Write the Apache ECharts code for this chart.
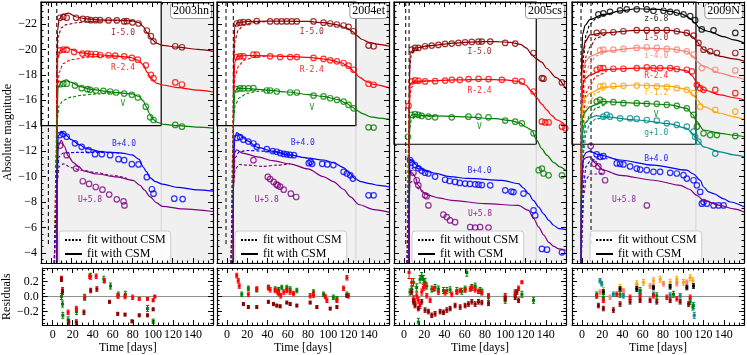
<!DOCTYPE html>
<html>
<head>
<meta charset="utf-8">
<script src="https://cdn.jsdelivr.net/npm/echarts@6/dist/echarts.min.js"></script>
<style>
  html, body { margin: 0; padding: 0; background: #fff; }
  #chart { width: 747px; height: 355px; }
</style>
</head>
<body>
<div id="chart"></div>
<script>
// axis ranges
const xMin = -10, xMax = 160;
const magTop = -23.73, magBottom = -3.2;
const resMin = -0.38, resMax = 0.38;
const epochEnd = -4.5;

// ---------- SN 2003hn ----------
const hn03_I_obs = [[8.8,-22.49],[12.1,-22.57],[15.4,-22.49],[24.7,-22.49],[31.3,-22.41],[35.9,-22.36],[39.2,-22.30],[44.1,-22.30],[48.4,-22.30],[56.7,-22.28],[64.9,-22.28],[72.2,-22.20],[74.8,-22.22],[80.4,-22.12],[86.4,-22.04],[94.6,-21.49],[98.6,-21.04],[101.2,-20.64],[122.7,-20.25],[129.3,-20.17]];
const hn03_I_csm = [[5.6,-3.2],[5.8,-18],[6.3,-21.5],[8,-22.4],[12,-22.75],[17,-22.85],[25,-22.55],[35,-22.4],[50,-22.32],[65,-22.3],[80,-22.25],[87,-22.1],[91,-21.8],[95,-21.3],[99,-20.85],[104,-20.5],[110,-20.32],[125,-20.18],[145,-20.0],[160,-19.85]];
const hn03_I_nocsm = [[3.5,-3.2],[5,-12],[5.8,-19],[7,-21.0],[10,-21.7],[15,-21.95],[25,-22.1],[40,-22.2],[60,-22.27],[80,-22.22]];
const hn03_R_obs = [[8.8,-19.93],[12.1,-19.98],[15.4,-19.98],[22.7,-19.80],[30.9,-19.67],[35.9,-19.67],[39.2,-19.64],[44.1,-19.64],[48.4,-19.56],[56.7,-19.54],[63.3,-19.51],[72.2,-19.46],[79.8,-19.33],[85.7,-19.19],[93.6,-18.75],[98.6,-18.0],[101.2,-17.74],[122.7,-17.40],[129.3,-17.24]];
const hn03_R_csm = [[5.6,-3.2],[5.8,-16],[6.5,-19.3],[9,-19.9],[15,-20.15],[20,-20.0],[28,-19.75],[40,-19.62],[60,-19.5],[78,-19.38],[86,-19.15],[91,-18.8],[95,-18.2],[99,-17.7],[104,-17.35],[110,-17.2],[125,-17.0],[145,-16.8],[160,-16.65]];
const hn03_R_nocsm = [[3.3,-3.2],[5,-10],[6,-16.5],[8,-18.2],[12,-18.9],[20,-19.2],[35,-19.38],[50,-19.45],[65,-19.48],[78,-19.38]];
const hn03_V_obs = [[8.8,-17.27],[12.1,-17.30],[15.4,-17.30],[23.6,-17.16],[30.2,-16.95],[35.9,-16.87],[38.5,-16.82],[44.4,-16.77],[51.7,-16.74],[58.3,-16.69],[64.3,-16.61],[72.2,-16.53],[79.8,-16.43],[85.7,-16.22],[93.6,-15.50],[97.9,-14.66],[101.2,-14.45],[122.7,-14.06],[129.3,-13.92]];
const hn03_V_csm = [[5.6,-3.2],[5.8,-14],[6.8,-17.0],[10,-17.45],[15,-17.6],[20,-17.4],[28,-17.1],[40,-16.85],[55,-16.7],[65,-16.6],[80,-16.5],[87,-16.3],[91,-15.95],[94,-15.5],[97,-15.0],[100,-14.55],[105,-14.25],[112,-14.1],[125,-14.0],[145,-13.88],[160,-13.8]];
const hn03_V_nocsm = [[3.2,-3.2],[5,-9],[6,-14.5],[8,-15.6],[12,-16.0],[20,-16.25],[30,-16.4],[45,-16.5],[60,-16.6],[70,-16.58]];
const hn03_B_obs = [[8.8,-13.26],[12.1,-13.34],[15.4,-13.13],[23.6,-12.61],[30.2,-12.34],[36.9,-12.08],[43.4,-11.76],[50.1,-11.76],[58.3,-11.68],[66.6,-11.37],[72.2,-11.29],[79.8,-10.97],[86.4,-10.95],[94.6,-9.95],[99.6,-9.0],[101.2,-8.65],[121.7,-8.26],[130.0,-8.23]];
const hn03_B_csm = [[5.6,-3.2],[5.8,-10],[7,-13.2],[10,-13.55],[14,-13.3],[20,-12.9],[28,-12.5],[35,-12.2],[50,-11.95],[70,-11.85],[80,-11.7],[87,-11.35],[91,-10.75],[94,-10.4],[98,-9.9],[103,-9.6],[110,-9.4],[125,-9.15],[145,-8.95],[160,-8.85]];
const hn03_B_nocsm = [[3,-3.2],[5,-7],[6,-10.5],[8,-11.6],[12,-11.85],[25,-11.9],[50,-11.9],[70,-11.85]];
const hn03_U_obs = [[8.8,-12.44],[15.4,-11.68],[24.7,-10.63],[31.3,-9.63],[37.5,-9.42],[44.1,-9.18],[50.7,-8.97],[57.4,-8.58],[64.9,-8.21],[71.6,-8.05],[72.5,-7.73]];
const hn03_U_csm = [[5.6,-3.2],[5.8,-9],[7,-12.4],[10,-12.85],[13,-12.4],[17,-11.6],[22,-11.1],[27,-10.8],[32,-10.45],[45,-10.2],[65,-9.97],[81,-9.7],[88,-9.3],[92,-8.95],[98,-8.4],[104,-7.95],[110,-7.65],[130,-7.45],[160,-7.25]];
const hn03_U_nocsm = [[3,-3.2],[5,-6],[6,-9.5],[8,-10.8],[12,-11.0],[20,-10.7],[30,-10.5],[45,-10.3],[60,-10.1],[75,-9.85]];
const hn03_res_V = [[8.8,0.0,0.04],[9.8,-0.1,0.04],[10.1,-0.25,0.04],[15.4,-0.31,0.04],[23.8,-0.2,0.04],[31.9,-0.01,0.04],[37.9,0.27,0.04],[51.0,0.23,0.04],[57.7,0.14,0.04],[65.6,0.02,0.04],[72.5,0.03,0.04],[94.6,-0.16,0.04],[100.3,-0.33,0.03]];
const hn03_res_R = [[8.8,0.24,0.03],[9.8,0.09,0.03],[15.4,-0.21,0.03],[23.6,-0.16,0.03],[31.9,-0.01,0.03],[36.9,0.27,0.03],[43.4,0.27,0.03],[51.7,0.21,0.03],[64.9,0.01,0.03],[72.2,0.0,0.03],[79.8,-0.01,0.03],[86.4,-0.03,0.02],[94.6,-0.03,0.02],[100.3,-0.05,0.02],[101.9,0.0,0.02]];
const hn03_res_I = [[8.8,0.23,0.03],[9.8,0.06,0.03],[16.1,-0.34,0.03],[23.6,-0.34,0.03],[31.2,-0.21,0.03],[37.9,0.08,0.03],[44.1,0.10,0.03],[56.7,-0.07,0.02],[64.9,-0.23,0.02],[72.2,-0.24,0.02],[79.1,-0.33,0.02],[86.4,-0.25,0.02],[94.6,-0.25,0.02],[100.3,-0.17,0.02]];
const hn03_labels = [[71,-21.33,'I-5.0'],[71,-18.56,'R-2.4'],[71,-15.7,'V'],[72,-12.6,'B+4.0'],[38.5,-8.2,'U+5.8']];

// ---------- SN 2004et ----------
const et04_I_obs = [[9.5,-22.04],[12.8,-22.1],[16.1,-22.15],[21,-22.15],[29.3,-22.22],[42.5,-22.2],[49.1,-22.2],[54,-22.2],[59,-22.2],[64,-22.2],[68.9,-22.2],[85.4,-22.2],[95.3,-22.1],[101.9,-22.04],[108.5,-21.96],[115.1,-21.88],[120,-21.78],[125,-21.43],[139.8,-20.30],[144.8,-20.25]];
const et04_I_csm = [[6.1,-3.2],[6.3,-19],[7.5,-21.8],[10,-22.1],[20,-22.2],[40,-22.22],[60,-22.22],[80,-22.2],[95,-22.1],[108,-21.95],[118,-21.7],[124,-21.4],[128,-21.1],[133,-20.8],[140,-20.55],[150,-20.4],[160,-20.25]];
const et04_I_nocsm = [[4,-3.2],[5.5,-12],[6.5,-19.3],[8,-20.8],[11,-21.5],[16,-21.9],[25,-22.1],[40,-22.2]];
const et04_R_obs = [[9.5,-19.40],[12.8,-19.46],[16.1,-19.46],[26,-19.59],[29.3,-19.59],[42.5,-19.46],[52.4,-19.40],[62.3,-19.40],[68.9,-19.40],[85.4,-19.33],[95.3,-19.25],[101.9,-19.14],[108.5,-19.06],[115.1,-18.93],[120,-18.72],[125,-18.40],[139.8,-17.30],[144.8,-17.22]];
const et04_R_csm = [[6.1,-3.2],[6.3,-16],[7.5,-19.0],[10,-19.45],[20,-19.52],[40,-19.5],[60,-19.45],[80,-19.38],[100,-19.2],[113,-18.95],[120,-18.65],[126,-18.2],[131,-17.8],[137,-17.5],[145,-17.25],[160,-16.97]];
const et04_R_nocsm = [[4,-3.2],[5.5,-10],[6.5,-16.8],[8,-18.0],[12,-18.8],[18,-19.2],[28,-19.4],[40,-19.48]];
const et04_V_obs = [[9.5,-16.87],[12.8,-16.93],[16.1,-16.93],[21,-16.93],[26,-16.95],[39.2,-16.77],[42.5,-16.77],[49.1,-16.69],[62.3,-16.61],[68.9,-16.61],[85.4,-16.37],[95.3,-16.3],[101.9,-16.16],[108.5,-16.03],[115.1,-15.9],[120,-15.64],[125,-15.37],[139.8,-13.87],[144.8,-13.85]];
const et04_V_csm = [[6.1,-3.2],[6.3,-14],[7.5,-16.6],[10,-16.95],[20,-16.92],[40,-16.8],[60,-16.65],[80,-16.45],[95,-16.3],[110,-16.05],[118,-15.75],[124,-15.45],[128,-15.2],[134,-14.95],[142,-14.7],[150,-14.6],[160,-14.5]];
const et04_V_nocsm = [[4,-3.2],[5.5,-9],[6.5,-14.8],[8,-15.6],[12,-16.2],[20,-16.55],[30,-16.7],[40,-16.78]];
const et04_B_obs = [[9.5,-13.05],[12.8,-13.1],[16.1,-12.9],[21,-12.75],[26,-12.6],[29.3,-12.35],[39.2,-12.15],[45,-12.0],[49.1,-11.95],[52.4,-11.85],[56,-11.78],[59,-11.75],[62.3,-11.7],[66,-11.68],[80.7,-11.05],[82.5,-11.15],[84,-11.0],[94,-11.0],[99,-10.95],[105,-10.9],[115.1,-10.37],[118.4,-10.24],[121.7,-10.1],[124.3,-9.84],[139.8,-8.52],[144.8,-8.52]];
const et04_B_csm = [[6.1,-3.2],[6.3,-10],[7.5,-13.0],[9.5,-13.45],[14,-13.2],[20,-12.8],[30,-12.3],[45,-12.0],[62,-11.68],[80,-11.45],[95,-11.3],[105,-11.1],[115,-10.7],[121,-10.3],[126,-9.85],[132,-9.6],[141,-9.45],[150,-9.3],[160,-9.18]];
const et04_B_nocsm = [[4,-3.2],[5.5,-7],[6.5,-10.5],[8,-11.5],[12,-11.95],[20,-12.05],[35,-12.0],[50,-11.9],[65,-11.68]];
const et04_U_obs = [[26,-11.29],[40.2,-9.97],[42.5,-9.8],[46,-9.58],[48.7,-9.39],[50,-9.3],[52.4,-9.2],[55.9,-8.97],[63,-8.65],[68.3,-8.39]];
const et04_U_csm = [[6.1,-3.2],[6.3,-9],[7.5,-11.9],[9.5,-12.1],[15,-11.85],[30,-11.55],[45,-11.25],[62,-11.0],[80,-10.6],[95,-10.0],[105,-9.6],[115,-9.0],[122,-8.4],[130,-7.8],[145,-7.4],[160,-7.2]];
const et04_U_nocsm = [[4,-3.2],[5.5,-6],[6.5,-9.5],[8,-10.6],[12,-10.95],[20,-10.9],[35,-10.8],[50,-10.9],[62,-11.0]];
const et04_res_V = [[14.5,0.03,0.03],[21,0.11,0.03],[29.3,0.09,0.03],[40.8,0.12,0.03],[47.5,0.10,0.03],[50.8,0.09,0.03],[54,0.12,0.03],[59,0.12,0.03],[62.3,0.10,0.03],[68.9,0.08,0.03],[85.4,0.06,0.03],[95.3,0.03,0.03],[105,-0.01,0.03],[108.5,-0.03,0.03],[118.4,0.03,0.03]];
const et04_res_R = [[9.5,0.28,0.03],[11,0.21,0.03],[12,0.14,0.03],[21,0.03,0.03],[29.3,0.10,0.03],[40.8,0.12,0.03],[42.5,0.09,0.03],[47.5,0.08,0.03],[50,0.06,0.03],[51,0.04,0.03],[53,0.01,0.03],[56,0.06,0.03],[59,0.08,0.03],[62.3,0.06,0.03],[65.6,0.04,0.03],[82.1,0.01,0.03],[85.4,0.02,0.03],[97,0.0,0.03],[98.6,-0.05,0.03],[108.5,-0.05,0.03],[115.1,0.11,0.03],[118.4,0.25,0.03],[120,0.01,0.03]];
const et04_res_I = [[16.1,-0.10,0.02],[21,-0.14,0.02],[29.3,-0.14,0.02],[40.8,-0.07,0.02],[45.8,-0.10,0.02],[49.1,-0.12,0.02],[52.4,-0.13,0.02],[59,-0.08,0.02],[62.3,-0.10,0.02],[68.9,-0.12,0.02],[82.1,-0.08,0.02],[88.7,-0.14,0.02],[101.9,-0.16,0.02],[108.5,-0.14,0.02],[118.4,0.01,0.02]];
const et04_labels = [[83.7,-21.4,'I-5.0'],[83.7,-18.35,'R-2.4'],[83.7,-15.37,'V'],[74.8,-12.66,'B+4.0'],[39.2,-8.18,'U+5.8']];

// ---------- SN 2005cs ----------
const cs05_I_obs = [[7.5,-19.98],[10.8,-20.12],[14.1,-20.12],[20.7,-20.25],[27.3,-20.3],[33.9,-20.35],[40.5,-20.43],[47.1,-20.46],[53.7,-20.51],[60.3,-20.56],[66.9,-20.59],[73.5,-20.62],[76.8,-20.62],[85.1,-20.62],[99.9,-20.51],[109.8,-20.46],[127.9,-19.72],[136.2,-17.74],[137.8,-17.7],[156,-17.4]];
const cs05_I_csm = [[4.9,-3.2],[5.1,-17],[6,-19.7],[10,-20.1],[25,-20.3],[50,-20.5],[70,-20.6],[90,-20.62],[105,-20.55],[115,-20.4],[121,-20.1],[126,-19.6],[130,-19.3],[136,-19.0],[141,-18.5],[150,-17.8],[160,-16.9]];
const cs05_I_nocsm = [[3,-3.2],[4.5,-13],[5.5,-18.5],[7,-19.5],[10,-19.9],[20,-20.2],[30,-20.35]];
const cs05_R_obs = [[4.4,-15.56],[7.5,-17.48],[10.8,-17.56],[14.1,-17.53],[20.7,-17.48],[30.6,-17.5],[40.5,-17.55],[47.1,-17.61],[55,-17.6],[63.6,-17.67],[73.5,-17.69],[83.4,-17.67],[96.6,-17.61],[109.8,-17.53],[116.4,-17.48],[127.9,-16.69],[136.2,-14.32],[139.5,-14.26],[142.8,-14.26],[156,-13.92],[159.3,-13.8]];
const cs05_R_csm = [[4.9,-3.2],[5.1,-15],[6,-17.3],[10,-17.5],[25,-17.52],[50,-17.6],[80,-17.65],[100,-17.6],[112,-17.5],[120,-17.2],[126,-16.7],[131,-16.2],[136,-15.7],[141,-15.24],[146,-14.8],[151,-14.45],[160,-14.0]];
const cs05_R_nocsm = [[3,-3.2],[4.5,-11],[5.5,-16.2],[7,-17.0],[10,-17.35],[20,-17.5],[30,-17.55]];
const cs05_V_obs = [[3.8,-13.13],[7.5,-14.85],[10.8,-14.92],[14.1,-14.85],[17.4,-14.77],[24,-14.71],[30.6,-14.66],[47.1,-14.66],[63.6,-14.71],[73.5,-14.71],[83.4,-14.66],[99.9,-14.4],[109.8,-14.32],[116.4,-14.19],[127.9,-13.4],[133,-10.5],[136.2,-10.63],[137.8,-10.24],[142.8,-10.1],[156,-10.1]];
const cs05_V_csm = [[4.9,-3.2],[5.1,-13],[6,-14.7],[8,-14.9],[20,-14.8],[60,-14.7],[90,-14.55],[105,-14.4],[115,-14.2],[120,-13.9],[126,-13.66],[131,-12.87],[136,-12.2],[141,-11.68],[148,-11.1],[154,-10.76],[160,-10.45]];
const cs05_V_nocsm = [[3,-3.2],[4.5,-9],[5.5,-13.8],[7,-14.4],[10,-14.65],[20,-14.75],[30,-14.72]];
const cs05_B_obs = [[5.8,-11.3],[7.5,-11.1],[10.8,-10.9],[14.1,-10.65],[17.4,-10.45],[20.7,-10.3],[24,-10.24],[30.6,-10.0],[40.5,-9.75],[45,-9.65],[50.4,-9.58],[55,-9.5],[60.3,-9.45],[65,-9.42],[70.2,-9.39],[73.5,-9.36],[76.8,-9.33],[85.1,-9.31],[99.9,-8.92],[106,-8.82],[108.1,-8.78],[118,-8.66],[127.9,-7.34],[129.6,-6.94],[136.2,-4.31],[141.2,-4.25],[156,-4.04]];
const cs05_B_csm = [[4.9,-3.2],[5.1,-9],[5.8,-11.4],[8,-11.2],[14,-10.8],[20,-10.5],[28,-10.3],[45,-10.0],[63,-9.85],[97,-9.7],[113,-9.45],[118,-9.1],[123,-8.65],[128,-8.1],[133,-7.6],[138,-7.05],[143,-6.55],[148,-6.15],[153,-5.9],[160,-5.82]];
const cs05_B_nocsm = [[3,-3.2],[4.5,-7],[5.5,-10],[7,-10.6],[10,-10.75],[15,-10.6],[20,-10.45],[28,-10.3]];
const cs05_U_obs = [[9.2,-10.3],[12.4,-9.71],[14.1,-9.31],[20.7,-8.52],[22.4,-8.45],[24,-7.73],[38.8,-7.0],[42.1,-6.81],[45.4,-6.55],[50.4,-6.41],[65.3,-6.02],[70.2,-5.99],[75.1,-6.02],[83.4,-5.99]];
const cs05_U_csm = [[4.9,-3.2],[5.1,-8],[5.8,-10.24],[8,-10.3],[10.8,-9.97],[14,-9.31],[18,-8.8],[24,-8.52],[35,-8.3],[47,-8.13],[80,-7.87],[113,-7.73],[123,-7.34],[128,-6.7],[133,-6.02],[138,-5.4],[143,-4.83],[148,-4.5],[153,-4.31],[160,-4.2]];
const cs05_U_nocsm = [[3,-3.2],[4.5,-6],[5.5,-9.3],[7,-9.6],[10,-9.5],[15,-9.0],[22,-8.6]];
const cs05_res_V = [[5.8,0.06,0.04],[7.5,0.10,0.04],[9.2,0.19,0.05],[12.4,0.12,0.05],[14.1,-0.34,0.05],[15.7,0.23,0.05],[17.4,0.27,0.05],[19,0.23,0.05],[20.7,0.19,0.05],[22.4,0.14,0.04],[27.3,0.10,0.04],[30.6,0.12,0.04],[33.9,0.10,0.04],[38.9,0.08,0.04],[42.2,0.08,0.04],[45.5,0.09,0.04],[52.1,0.08,0.04],[57,0.07,0.04],[60.3,0.10,0.04],[62,0.32,0.05],[66.9,0.12,0.04],[70.2,0.14,0.04],[75.2,0.08,0.04],[76.8,0.06,0.04],[83.4,-0.01,0.04],[99.9,-0.05,0.04],[109.8,0.03,0.04],[116.4,0.03,0.04],[127.9,-0.05,0.04]];
const cs05_res_R = [[4.9,0.32,0.08],[7.5,0.19,0.05],[9.2,-0.03,0.04],[10.8,-0.07,0.04],[12.4,0.01,0.04],[14.1,-0.05,0.04],[15.7,-0.12,0.04],[17.4,0.06,0.04],[19,0.12,0.04],[20.7,0.14,0.04],[22.4,0.01,0.03],[25.7,-0.05,0.03],[29,0.1,0.03],[33.9,0.06,0.03],[40.5,0.05,0.03],[47.1,0.03,0.03],[52.1,0.06,0.03],[55.4,0.08,0.03],[60.3,0.09,0.03],[65.3,0.10,0.03],[66.9,0.12,0.03],[70.2,0.09,0.03],[73.5,0.07,0.03],[76.8,0.06,0.03],[83.4,0.01,0.03],[99.9,0.01,0.03],[109.8,0.06,0.03],[113.1,0.11,0.03],[116.4,0.19,0.02]];
const cs05_res_I = [[7.5,0.06,0.03],[9.2,-0.07,0.03],[10.8,-0.12,0.03],[14.1,-0.16,0.03],[17.4,-0.07,0.03],[20.7,-0.18,0.03],[24,-0.2,0.03],[27.3,-0.25,0.03],[30.6,-0.23,0.03],[35.6,-0.2,0.03],[38.9,-0.21,0.03],[42.2,-0.18,0.03],[45.5,-0.16,0.03],[50.4,-0.12,0.03],[55.4,-0.14,0.03],[60.3,-0.12,0.03],[63.6,-0.10,0.03],[66.9,-0.07,0.03],[70.2,-0.10,0.03],[73.5,-0.07,0.03],[76.8,-0.08,0.03],[83.4,-0.09,0.03],[99.9,-0.03,0.03],[109.8,-0.01,0.03],[111.5,0.06,0.03],[113.1,-0.05,0.03]];
const cs05_labels = [[74.5,-19.77,'I-5.0'],[74.5,-16.74,'R-2.4'],[74.5,-13.92,'V'],[74.5,-10.45,'B+4.0'],[75.1,-7.07,'U+5.8']];

// ---------- SN 2009N ----------
const n09_z_obs = [[16.1,-22.75],[21,-22.83],[27.6,-22.96],[37.5,-23.07],[44.1,-23.15],[54,-23.15],[63.9,-23.15],[70.5,-23.04],[80.4,-23.04],[87,-22.96],[93.6,-22.9],[100.2,-22.75],[106.8,-22.62],[111.7,-22.3],[118.3,-21.57],[129.9,-21.5],[151.4,-21.3]];
const n09_z_csm = [[-1.0,-3.2],[-0.8,-18],[0.5,-21.2],[3,-21.9],[7.8,-22.36],[21,-22.75],[40,-23.05],[54,-23.2],[75,-23.15],[87,-23.0],[98,-22.8],[103.5,-22.6],[108,-22.35],[111,-22.1],[116,-21.7],[121,-21.5],[126,-21.4],[140,-21.0],[150,-20.75],[160,-20.5]];
const n09_z_nocsm = [[-0.8,-3.2],[0.3,-14],[1.5,-19.5],[4,-21.2],[7.8,-22.0],[14,-22.45],[25,-22.85]];
const n09_I_obs = [[14.4,-21.3],[21,-21.35],[30.9,-21.35],[40.8,-21.43],[54,-21.51],[63.9,-21.51],[73.8,-21.51],[83.7,-21.51],[93.6,-21.43],[103.5,-21.3],[110.1,-21.09],[115,-20.51],[120,-19.98],[126.6,-19.85],[133.2,-19.72],[151.4,-19.72]];
const n09_I_csm = [[-1.0,-3.2],[-0.8,-16],[0.5,-19.6],[3,-20.6],[7.8,-21.14],[21,-21.3],[54,-21.5],[87,-21.5],[103.5,-21.3],[109,-21.0],[113.4,-20.64],[117,-20.25],[120,-19.98],[128,-19.7],[136.5,-19.46],[150,-19.25],[160,-19.08]];
const n09_I_nocsm = [[-0.8,-3.2],[0.3,-12],[1.5,-17.5],[4,-19.5],[7.8,-20.2],[14,-20.9],[25,-21.25]];
const n09_i_obs = [[17.7,-19.93],[21,-19.98],[30.9,-19.98],[40.8,-20.04],[54,-20.12],[63.9,-20.17],[73.8,-20.12],[83.7,-20.04],[93.6,-19.98],[103.5,-19.85],[110.1,-19.59],[118.3,-18.53],[131.6,-18.4],[151.4,-18.35]];
const n09_i_csm = [[-1.0,-3.2],[-0.8,-15],[0.5,-18.3],[3,-19.0],[7.8,-19.46],[21,-19.85],[54,-20.12],[87,-20.04],[103.5,-19.85],[109,-19.5],[113.4,-19.06],[120,-18.67],[136.5,-18.14],[150,-17.85],[160,-17.65]];
const n09_i_nocsm = [[-0.8,-3.2],[0.3,-11],[1.5,-16],[4,-18.2],[7.8,-18.9],[14,-19.5],[25,-19.85]];
const n09_R_obs = [[14.4,-18.4],[17.7,-18.53],[21,-18.53],[30.9,-18.48],[40.8,-18.48],[54,-18.53],[63.9,-18.59],[70.5,-18.53],[77.1,-18.53],[87,-18.53],[93.6,-18.46],[103.5,-18.4],[108.5,-18.27],[113.4,-17.22],[116.7,-16.95],[120,-16.82],[131.6,-16.82],[151.4,-16.56]];
const n09_R_csm = [[-1.0,-3.2],[-0.8,-14],[0.5,-17.2],[3,-17.7],[7.8,-18.0],[21,-18.4],[54,-18.53],[87,-18.53],[103.5,-18.32],[109,-17.9],[113.4,-17.35],[120,-16.82],[136.5,-16.43],[150,-16.2],[160,-16.03]];
const n09_R_nocsm = [[-0.8,-3.2],[0.3,-10],[1.5,-15],[4,-16.6],[7.8,-17.2],[14,-17.9],[25,-18.35]];
const n09_r_obs = [[17.7,-17.09],[21,-17.14],[30.9,-17.14],[40.8,-17.14],[54,-17.16],[63.9,-17.14],[73.8,-17.09],[83.7,-17.04],[93.6,-16.95],[103.5,-16.82],[110.1,-16.56],[116.7,-15.5],[131.6,-15.24],[151.4,-15.11]];
const n09_r_csm = [[-1.0,-3.2],[-0.8,-13],[0.5,-15.6],[3,-16.2],[7.8,-16.56],[21,-17.04],[54,-17.2],[87,-17.09],[103.5,-16.87],[109,-16.5],[113.4,-16.03],[120,-15.5],[136.5,-14.98],[150,-14.7],[160,-14.5]];
const n09_r_nocsm = [[-0.8,-3.2],[0.3,-9.5],[1.5,-14],[4,-15.4],[7.8,-16.0],[14,-16.6],[25,-17.0]];
const n09_V_obs = [[14.4,-15.9],[17.7,-16.03],[21,-15.9],[30.9,-15.85],[40.8,-15.77],[54,-15.77],[63.9,-15.72],[73.8,-15.72],[83.7,-15.64],[93.6,-15.56],[103.5,-15.37],[110.1,-14.85],[113.4,-13.92],[120,-13.4],[126.6,-13.26],[133.2,-13.26],[151.4,-13.18]];
const n09_V_csm = [[-1.0,-3.2],[-0.8,-12],[0.5,-14.6],[3,-15.1],[7.8,-15.5],[21,-15.9],[54,-15.77],[87,-15.64],[103.5,-15.37],[109,-14.9],[113.4,-14.32],[120,-13.66],[136.5,-13.4],[150,-13.25],[160,-13.13]];
const n09_V_nocsm = [[-0.8,-3.2],[0.3,-8.5],[1.5,-13],[4,-14.3],[7.8,-14.85],[14,-15.4],[25,-15.8]];
const n09_g_obs = [[21,-14.71],[24.3,-14.85],[27.6,-14.71],[37.5,-14.58],[47.4,-14.58],[54,-14.53],[63.9,-14.45],[73.8,-14.4],[83.7,-14.19],[93.6,-14.06],[103.5,-13.92],[110.1,-13.53],[111.7,-13.13],[115,-12.74],[131.6,-11.81]];
const n09_g_csm = [[-1.0,-3.2],[-0.8,-11],[0.5,-13.6],[3,-14.2],[7.8,-14.6],[14,-14.8],[21,-14.71],[54,-14.45],[87,-14.14],[103.5,-13.8],[109,-13.4],[113.4,-12.87],[120,-12.34],[136.5,-11.94],[150,-11.7],[160,-11.55]];
const n09_g_nocsm = [[-0.8,-3.2],[0.3,-8],[1.5,-12],[4,-13.5],[7.8,-14.2],[14,-14.55],[25,-14.65]];
const n09_B_obs = [[14.4,-11.74],[17.7,-11.55],[21,-11.6],[34.2,-11.03],[37.5,-11.0],[40.8,-10.95],[47.4,-10.8],[54,-10.63],[57.3,-10.55],[63.9,-10.5],[70.5,-10.37],[77.1,-10.37],[87,-10.29],[93.6,-10.24],[100.2,-10.11],[103.5,-9.84],[110.1,-9.71],[113.4,-9.31],[116.7,-8.79],[118.3,-7.87],[120,-8.0],[123.3,-7.87],[129.9,-7.73],[134.9,-7.73],[139.8,-7.73]];
const n09_B_csm = [[-1.0,-3.2],[-0.8,-9],[1.2,-11.55],[4,-11.9],[7.8,-12.0],[15,-11.75],[37.5,-11.3],[70.5,-10.9],[103.5,-10.5],[110,-10.2],[116.7,-9.71],[120,-9.18],[125,-8.8],[130,-8.66],[140,-8.25],[146.5,-8.0],[160,-7.62]];
const n09_B_nocsm = [[-0.8,-3.2],[0.3,-7],[1.5,-9.5],[4,-10.8],[7.8,-11.2],[14,-11.4],[25,-11.4]];
const n09_U_obs = [[8.5,-12.4],[12,-11.0],[16,-10.8],[19.4,-10.37],[22.7,-9.71],[64,-7.73]];
const n09_U_csm = [[-1.0,-3.2],[-0.8,-8],[1,-11.3],[4,-11.5],[7.8,-11.55],[14,-11.0],[21,-10.5],[37.5,-10.1],[70.5,-9.71],[97,-9.31],[106,-9.0],[113.4,-8.52],[120,-8.13],[136.5,-7.73],[150,-7.45],[160,-7.21]];
const n09_U_nocsm = [[-0.8,-3.2],[0.3,-6],[1.5,-8.5],[4,-9.8],[8,-10.2],[14,-10.2],[22,-10.3]];
const n09_res_g = [[17.7,0.21,0.03],[19.4,0.17,0.03],[30.9,0.03,0.03],[40.8,0.01,0.03],[57.3,0.06,0.03],[70.5,0.03,0.03],[87,0.02,0.03],[96.9,0.01,0.03],[110.1,-0.12,0.04],[110.8,-0.25,0.04]];
const n09_res_r = [[21,0.08,0.04],[37.5,0.12,0.04],[54,0.17,0.04],[60.6,0.19,0.04],[70.5,0.21,0.04],[77.1,0.23,0.04],[87,0.19,0.04],[93.6,0.23,0.04],[100.2,0.19,0.04],[106.8,0.25,0.04],[109.5,0.21,0.04]];
const n09_res_i = [[17.7,0.06,0.03],[27.6,-0.01,0.03],[40.8,0.08,0.03],[54,0.12,0.03],[67.2,0.14,0.03],[80.4,0.17,0.03],[93.6,0.17,0.03],[103.5,0.19,0.03]];
const n09_res_z = [[21,0.06,0.03],[37.5,0.1,0.03],[54,0.10,0.03],[70.5,0.12,0.03],[87,0.13,0.03],[103.5,0.12,0.03],[110.1,0.14,0.03]];
const n09_res_R = [[14.4,0.01,0.03],[21,-0.05,0.03],[34.2,0.03,0.03],[47.4,-0.01,0.03],[57.3,0.01,0.03],[70.5,0.01,0.03],[83.7,-0.01,0.03],[93.6,-0.03,0.03],[106.8,-0.01,0.03]];
const n09_res_I = [[16.1,-0.12,0.03],[21,-0.16,0.03],[30.9,-0.18,0.03],[37.5,-0.10,0.03],[47.4,-0.07,0.03],[57.3,-0.05,0.03],[67.2,-0.05,0.03],[73.8,-0.07,0.03],[87,-0.05,0.03],[96.9,-0.07,0.03],[105.2,-0.10,0.03]];
const n09_res_V = [[14.4,0.02,0.04],[21,-0.01,0.04],[37.5,0.03,0.04],[57.3,0.08,0.04],[73.8,0.01,0.04],[90.3,0.03,0.04],[106.8,-0.07,0.04],[109.5,-0.14,0.04]];
const n09_labels = [[73.2,-22.43,'z-6.8'],[73.2,-20.91,'I-5.0'],[73.2,-19.51,'i-4.0'],[73.2,-17.93,'R-2.4'],[73.2,-16.56,'r-1.2'],[73.2,-14.85,'V'],[73.2,-13.4,'g+1.0'],[73.2,-11.42,'B+4.0'],[41.5,-8.13,'U+5.8']];

// plateau box (end day, magnitude of the lower edge) and explosion epochs
const plateauEnd = [108.8, 127.3, 130.6, 112.5];
const plateauMag = [-14, -14, -12.54, -12.54];
const epochs = [[-2.7, 5.6], [-1.1, 6.1], [1.6, 4.9], [-1.1, 8.8]];
const snNames = ['2003hn', '2004et', '2005cs', '2009N'];

const C = { z: '#000000', I: '#8b0000', i: '#fa8072', R: '#ff0000', r: '#ffa500', V: '#008000', g: '#008b8b', B: '#0000ff', U: '#800080' };
const SERIF = 'Liberation Serif';
const MONO = 'DejaVu Sans Mono';
const panelLeft = [41, 217, 394, 572];
const panelWidth = 172;

const panels = [
  { bands: [['I', hn03_I_obs, hn03_I_csm, hn03_I_nocsm], ['R', hn03_R_obs, hn03_R_csm, hn03_R_nocsm], ['V', hn03_V_obs, hn03_V_csm, hn03_V_nocsm], ['B', hn03_B_obs, hn03_B_csm, hn03_B_nocsm], ['U', hn03_U_obs, hn03_U_csm, hn03_U_nocsm]],
    res: [['V', hn03_res_V], ['R', hn03_res_R], ['I', hn03_res_I]], labels: hn03_labels },
  { bands: [['I', et04_I_obs, et04_I_csm, et04_I_nocsm], ['R', et04_R_obs, et04_R_csm, et04_R_nocsm], ['V', et04_V_obs, et04_V_csm, et04_V_nocsm], ['B', et04_B_obs, et04_B_csm, et04_B_nocsm], ['U', et04_U_obs, et04_U_csm, et04_U_nocsm]],
    res: [['V', et04_res_V], ['R', et04_res_R], ['I', et04_res_I]], labels: et04_labels },
  { bands: [['I', cs05_I_obs, cs05_I_csm, cs05_I_nocsm], ['R', cs05_R_obs, cs05_R_csm, cs05_R_nocsm], ['V', cs05_V_obs, cs05_V_csm, cs05_V_nocsm], ['B', cs05_B_obs, cs05_B_csm, cs05_B_nocsm], ['U', cs05_U_obs, cs05_U_csm, cs05_U_nocsm]],
    res: [['V', cs05_res_V], ['R', cs05_res_R], ['I', cs05_res_I]], labels: cs05_labels },
  { bands: [['z', n09_z_obs, n09_z_csm, n09_z_nocsm], ['I', n09_I_obs, n09_I_csm, n09_I_nocsm], ['i', n09_i_obs, n09_i_csm, n09_i_nocsm], ['R', n09_R_obs, n09_R_csm, n09_R_nocsm], ['r', n09_r_obs, n09_r_csm, n09_r_nocsm], ['V', n09_V_obs, n09_V_csm, n09_V_nocsm], ['g', n09_g_obs, n09_g_csm, n09_g_nocsm], ['B', n09_B_obs, n09_B_csm, n09_B_nocsm], ['U', n09_U_obs, n09_U_csm, n09_U_nocsm]],
    res: [['r', n09_res_r], ['i', n09_res_i], ['z', n09_res_z], ['g', n09_res_g], ['V', n09_res_V], ['R', n09_res_R], ['I', n09_res_I]], labels: n09_labels }
];

const minus = s => String(s).replace('-', '\u2212');

const chart = echarts.init(document.getElementById('chart'));

// grids: 0-3 light curves, 4-7 residuals
const grids = [];
for (let g = 0; g < 8; g++) {
  const top = g < 4;
  grids.push({
    left: panelLeft[g % 4], width: panelWidth,
    top: top ? 2 : 268, height: top ? 261 : 59,
    show: true, backgroundColor: top ? '#f0f0f0' : '#ffffff', borderWidth: 0
  });
}

const xAxes = [], yAxes = [];
const tickCommon = { axisTick: { inside: true, length: 5, lineStyle: { color: '#000' } },
  minorTick: { show: true, splitNumber: 4, length: 2.5, lineStyle: { color: '#000' } },
  splitLine: { show: false }, axisLine: { show: true, onZero: false, lineStyle: { color: '#000', width: 1.2 } } };
for (let dup = 0; dup < 2; dup++) {
  for (let g = 0; g < 8; g++) {
    const top = g < 4;
    xAxes.push(Object.assign({
      gridIndex: g, type: 'value', min: xMin, max: xMax, splitNumber: 8, z: 10,
      position: dup ? 'top' : 'bottom',
      axisLabel: { show: !dup && !top, showMinLabel: false, showMaxLabel: false, margin: 4,
        fontFamily: SERIF, fontSize: 12, color: '#000', formatter: v => minus(v) },
      name: (!dup && !top) ? 'Time [days]' : '', nameLocation: 'middle', nameGap: 15,
      nameTextStyle: { fontFamily: SERIF, fontSize: 12, color: '#000' }
    }, tickCommon));
    const isFirst = g % 4 === 0;
    yAxes.push(Object.assign({
      gridIndex: g, type: 'value', z: 10,
      min: top ? magTop : resMin, max: top ? magBottom : resMax, inverse: top,
      splitNumber: top ? 10 : 4, position: dup ? 'right' : 'left',
      axisLabel: { show: !dup && isFirst, showMinLabel: false, showMaxLabel: false, margin: 4,
        fontFamily: SERIF, fontSize: 12, color: '#000',
        formatter: v => top ? minus(v) : minus(v.toFixed(1)) },
      name: (!dup && isFirst) ? (top ? 'Absolute magnitude' : 'Residuals') : '',
      nameLocation: 'middle', nameGap: top ? 26 : 28,
      nameTextStyle: { fontFamily: SERIF, fontSize: 12, color: '#000' }
    }, tickCommon));
  }
}

const series = [];
const noHover = { silent: true, animation: false, emphasis: { disabled: true } };

// legend entries
series.push(Object.assign({ name: 'fit without CSM', type: 'line', data: [], symbol: 'none', color: '#000',
  lineStyle: { color: '#000', width: 1.2, type: [2, 1.5] } }, noHover));
series.push(Object.assign({ name: 'fit with CSM', type: 'line', data: [], symbol: 'none', color: '#000',
  lineStyle: { color: '#000', width: 1.3 } }, noHover));

panels.forEach((p, k) => {
  const ax = { xAxisIndex: k, yAxisIndex: k };
  // white plateau box plus its faint continuation
  series.push(Object.assign({ type: 'line', z: 1, symbol: 'none',
    data: [[plateauEnd[k], plateauMag[k]], [plateauEnd[k], magBottom]],
    lineStyle: { color: '#d4d4d4', width: 1 },
    markArea: { silent: true, itemStyle: { color: '#ffffff', borderColor: '#000', borderWidth: 1.2 },
      data: [[{ coord: [xMin, magTop] }, { coord: [plateauEnd[k], plateauMag[k]] }]] } }, ax, noHover));
  // explosion epochs
  epochs[k].forEach(e => series.push(Object.assign({ type: 'line', z: 2, symbol: 'none',
    data: [[e, magTop], [e, epochEnd]], lineStyle: { color: '#000', width: 1, type: [4, 3] } }, ax, noHover)));
  p.bands.forEach(([b, obs, csm, nocsm]) => {
    series.push(Object.assign({ type: 'scatter', z: 3, data: obs, symbol: 'circle', symbolSize: 5.5,
      itemStyle: { color: 'rgba(0,0,0,0)', borderColor: C[b], borderWidth: 1.2 } }, ax, noHover));
    series.push(Object.assign({ type: 'line', z: 4, data: nocsm, symbol: 'none', smooth: 0.3, smoothMonotone: 'x',
      lineStyle: { color: C[b], width: 1.1, type: [3, 2] } }, ax, noHover));
    series.push(Object.assign({ type: 'line', z: 4, data: csm, symbol: 'none', smooth: 0.3, smoothMonotone: 'x',
      lineStyle: { color: C[b], width: 1.2 } }, ax, noHover));
  });
  // band names, coloured like their band
  series.push(Object.assign({ type: 'scatter', z: 5, symbolSize: 0,
    data: p.labels.map(l => ({ value: l, label: { color: C[l[2][0]] } })),
    label: { show: true, position: 'inside', fontFamily: MONO, fontSize: 8, opacity: 0.85,
      formatter: d => d.value[2] },
    itemStyle: { color: 'transparent' } }, ax, noHover));

  // residuals
  const rax = { xAxisIndex: 4 + k, yAxisIndex: 4 + k };
  series.push(Object.assign({ type: 'line', z: 2, symbol: 'none', data: [[xMin, 0], [xMax, 0]],
    lineStyle: { color: '#8c8c8c', width: 1 } }, rax, noHover));
  p.res.forEach(([b, d]) => {
    const col = C[b];
    series.push(Object.assign({ type: 'custom', z: 4, data: d, clip: true,
      encode: { x: 0, y: 1 },
      renderItem: (params, api) => {
        const c = api.coord([api.value(0), api.value(1)]);
        const hi = api.coord([api.value(0), api.value(1) + api.value(2)]);
        const lo = api.coord([api.value(0), api.value(1) - api.value(2)]);
        const st = { stroke: col, lineWidth: 1 };
        return { type: 'group', children: [
          { type: 'line', shape: { x1: c[0], y1: hi[1], x2: c[0], y2: lo[1] }, style: st },
          { type: 'line', shape: { x1: c[0] - 1.5, y1: hi[1], x2: c[0] + 1.5, y2: hi[1] }, style: st },
          { type: 'line', shape: { x1: c[0] - 1.5, y1: lo[1], x2: c[0] + 1.5, y2: lo[1] }, style: st },
          { type: 'rect', shape: { x: c[0] - 1.5, y: c[1] - 1.5, width: 3, height: 3 }, style: { fill: col } }
        ] };
      } }, rax, noHover));
  });
});

const option = {
  animation: false,
  grid: grids,
  xAxis: xAxes,
  yAxis: yAxes,
  title: snNames.map((n, k) => ({
    text: n, right: 747 - (panelLeft[k] + panelWidth) + 1, top: 3,
    padding: [2, 3], borderColor: '#9a9a9a', borderWidth: 1, borderRadius: 3, backgroundColor: '#ffffff',
    textStyle: { fontFamily: SERIF, fontSize: 12, fontWeight: 'normal', color: '#000' }
  })),
  legend: panelLeft.map(l => ({
    left: l + 18, top: 231, orient: 'vertical', itemGap: 2, itemWidth: 17, itemHeight: 10,
    padding: [3, 5], backgroundColor: 'rgba(255,255,255,0.85)', borderColor: '#cccccc', borderWidth: 1, borderRadius: 3,
    selectedMode: false, itemStyle: { opacity: 0 },
    textStyle: { fontFamily: SERIF, fontSize: 12, color: '#000' },
    data: ['fit without CSM', 'fit with CSM']
  })),
  series: series
};
chart.setOption(option);
</script>
</body>
</html>
